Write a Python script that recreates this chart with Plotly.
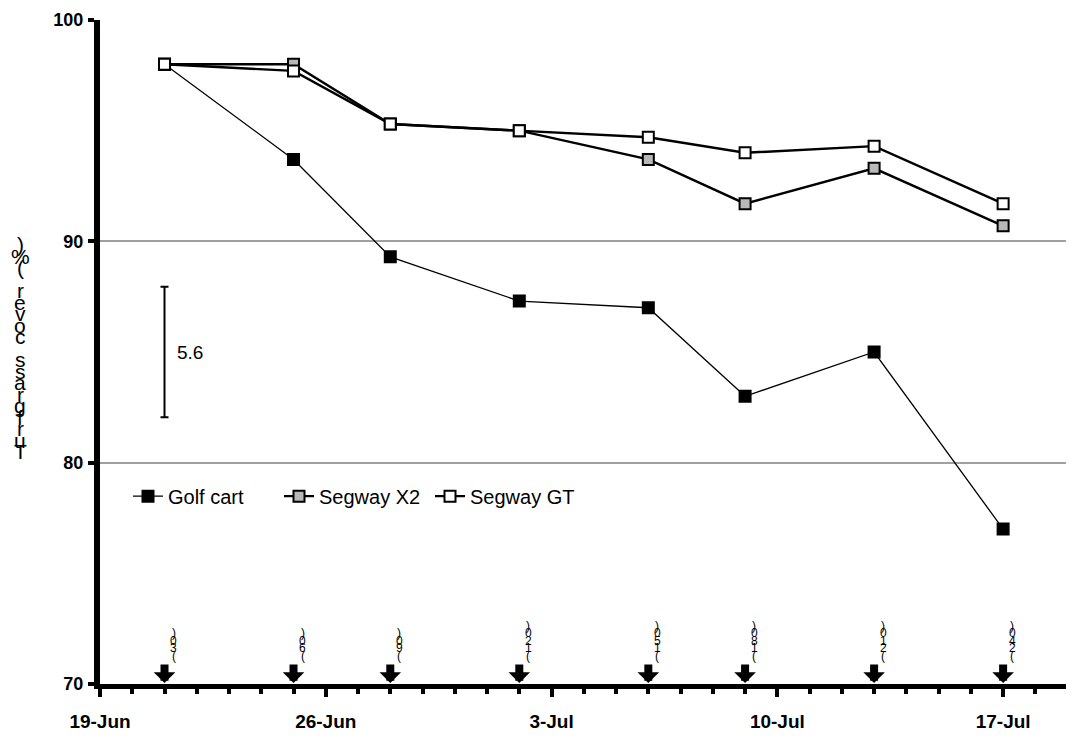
import plotly.graph_objects as go

# ---------------- data ----------------
dates = ["2010-06-21", "2010-06-25", "2010-06-28", "2010-07-02",
         "2010-07-06", "2010-07-09", "2010-07-13", "2010-07-17"]
golf_cart = [98.0, 93.7, 89.3, 87.3, 87.0, 83.0, 85.0, 77.0]
segway_x2 = [98.0, 98.0, 95.3, 95.0, 93.7, 91.7, 93.3, 90.7]
segway_gt = [98.0, 97.7, 95.3, 95.0, 94.7, 94.0, 94.3, 91.7]
series_names = ["Golf cart", "Segway X2", "Segway GT"]
traffic_labels = ["(30)", "(60)", "(90)", "(120)", "(150)", "(180)", "(210)", "(240)"]
lsd_label = "5.6"
lsd_date = "2010-06-21"
lsd_center = 85.0
lsd_half = 2.95
y_title = "Turfgrass cover (%)"
y_ticks = [70, 80, 90, 100]

# ---------------- layout constants ----------------
OFF = 8  # page body margin
W, H = 1074 - OFF, 740 - OFF
ML, MR, MT, MB = 100 - OFF, 1, 20 - OFF, 740 - 684.5
PW, PH = W - ML - MR, H - MT - MB
FONT = "Liberation Sans, Arial"


def py_to_paper(py):
    # page pixel -> paper coordinate
    return (H - MB - (py - OFF)) / PH


def px_to_paper(px):
    return (px - OFF - ML) / PW


fig = go.Figure()

styles = [
    dict(fill="#000000", width=1.3),
    dict(fill="#b8b8b8", width=2.4),
    dict(fill="#ffffff", width=2.4),
]
for name, vals, st in zip(series_names, [golf_cart, segway_x2, segway_gt], styles):
    fig.add_trace(go.Scatter(
        x=dates, y=vals, name=name, mode="lines+markers",
        line=dict(color="black", width=st["width"]),
        marker=dict(symbol="square", size=11, color=st["fill"],
                    line=dict(color="black", width=2)),
    ))

# LSD bar
fig.add_trace(go.Scatter(
    x=[lsd_date], y=[lsd_center], mode="markers", showlegend=False,
    marker=dict(size=1, color="rgba(0,0,0,0)"),
    error_y=dict(type="constant", value=lsd_half, color="black",
                 thickness=2, width=4),
    hoverinfo="skip",
))

annotations = []
annotations.append(dict(
    x=lsd_date, y=lsd_center, xref="x", yref="y", text=lsd_label,
    showarrow=False, xanchor="left", yanchor="middle", xshift=10,
    font=dict(family=FONT, size=19, color="black"),
))

# traffic arrows and their labels
for d, lab in zip(dates, traffic_labels):
    annotations.append(dict(
        x=d, y=70, xref="x", yref="y", text="", showarrow=True,
        ax=0, ay=-21, arrowcolor="black", arrowwidth=8, arrowhead=1,
        arrowsize=0.45, standoff=1,
    ))
    for i, ch in enumerate(lab):
        # stacked, read bottom-to-top
        py = 656 - i * 7.5
        annotations.append(dict(
            x=d, y=py_to_paper(py), xref="x", yref="paper", text=ch,
            showarrow=False, xanchor="center", yanchor="middle", xshift=9,
            font=dict(family=FONT, size=12, color="black"),
        ))

# y-axis title, stacked characters read bottom-to-top
for i, ch in enumerate(y_title):
    if ch == " ":
        continue
    py = 452 - i * 11.5
    annotations.append(dict(
        x=px_to_paper(20), y=py_to_paper(py), xref="paper", yref="paper",
        text=ch, showarrow=False, xanchor="center", yanchor="middle",
        font=dict(family=FONT, size=21, color="black"),
    ))

fig.update_layout(
    width=W, height=H,
    margin=dict(l=ML, r=MR, t=MT, b=MB, autoexpand=False),
    paper_bgcolor="white", plot_bgcolor="white",
    font=dict(family=FONT, color="black"),
    showlegend=True,
    legend=dict(
        orientation="h", x=px_to_paper(128), y=py_to_paper(477),
        xanchor="left", yanchor="top",
        font=dict(family=FONT, size=20, color="black"),
        bgcolor="rgba(0,0,0,0)", itemwidth=30, entrywidth=106,
        tracegroupgap=0,
    ),
    annotations=annotations,
    xaxis=dict(
        type="date", range=["2010-06-19", "2010-07-19 04:00"],
        tick0="2010-06-19", dtick=7 * 86400000, tickformat="%-d-%b",
        ticks="outside", ticklen=8, tickwidth=4, tickcolor="black",
        minor=dict(dtick=86400000, tick0="2010-06-19", ticks="outside",
                   ticklen=5, tickwidth=4, tickcolor="black", showgrid=False),
        showline=True, linecolor="black", linewidth=5,
        showgrid=False, zeroline=False, automargin=False,
        tickfont=dict(family=FONT, size=19, color="black", weight="bold"),
        ticklabelstandoff=8,
    ),
    yaxis=dict(
        range=[70, 100], tickvals=y_ticks,
        ticks="outside", ticklen=6, tickwidth=4, tickcolor="black",
        showline=True, linecolor="black", linewidth=6,
        showgrid=True, gridcolor="#a0a0a0", gridwidth=2,
        zeroline=False, automargin=False,
        tickfont=dict(family=FONT, size=18, color="black", weight="bold"),
        ticklabelstandoff=1,
    ),
)

fig.write_html("out.html")
